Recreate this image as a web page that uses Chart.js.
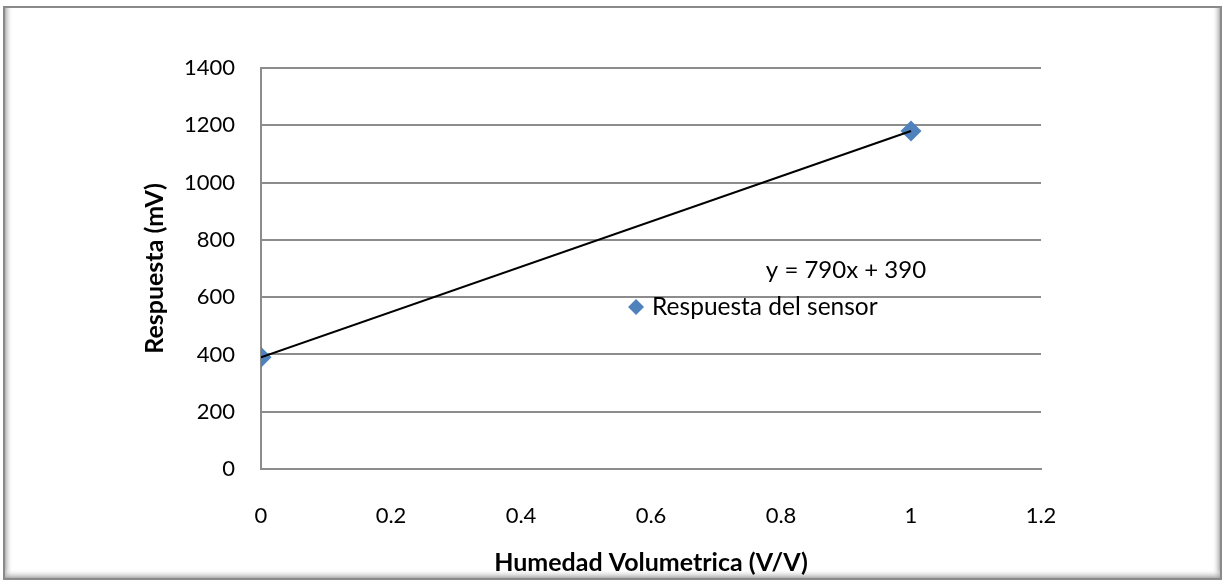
<!DOCTYPE html>
<html><head><meta charset="utf-8">
<script src="https://cdn.jsdelivr.net/npm/chart.js@4/dist/chart.umd.min.js"></script>
<style>html,body{margin:0;padding:0;background:#fff;} canvas{display:block}</style>
</head><body>
<canvas id="c" width="1225" height="583"></canvas>
<script>
const humedad = [0, 1];
const respuesta = [390, 1180];
const trendX = [0, 1];
const trendY = [390, 1180];
const xTicks = [0, 0.2, 0.4, 0.6, 0.8, 1, 1.2];
const yTicks = [0, 200, 400, 600, 800, 1000, 1200, 1400];
const seriesName = 'Respuesta del sensor';
const equationText = 'y = 790x + 390';
const xTitle = 'Humedad Volumetrica (V/V)';
const yTitle = 'Respuesta (mV)';

const FONT = 'Lato';
const BLUE = '#4F81BD';
const GRID = '#8c8c8c';

const framePlugin = {
  id: 'frame',
  beforeDraw(chart) {
    const ctx = chart.ctx;
    ctx.save();
    ctx.fillStyle = '#fff';
    ctx.fillRect(0, 0, chart.width, chart.height);
    let g = ctx.createLinearGradient(5, 0, 13, 0);
    g.addColorStop(0, '#b0b0b0'); g.addColorStop(1, 'rgba(255,255,255,0)');
    ctx.fillStyle = g; ctx.fillRect(5, 8, 8, 570);
    g = ctx.createLinearGradient(1212, 0, 1221, 0);
    g.addColorStop(0, 'rgba(255,255,255,0)'); g.addColorStop(1, '#9a9a9a');
    ctx.fillStyle = g; ctx.fillRect(1212, 8, 9, 571);
    g = ctx.createLinearGradient(0, 569, 0, 579);
    g.addColorStop(0, 'rgba(255,255,255,0)'); g.addColorStop(1, '#9a9a9a');
    ctx.fillStyle = g; ctx.fillRect(5, 569, 1216, 10);
    ctx.strokeStyle = '#8a8a8a';
    ctx.lineWidth = 2;
    ctx.strokeRect(4, 7, 1217, 572);
    ctx.restore();
  }
};

const annotPlugin = {
  id: 'annot',
  afterDraw(chart) {
    const ctx = chart.ctx;
    const xs = chart.scales.x, ys = chart.scales.y;
    ctx.save();
    ctx.font = '24px ' + FONT;
    ctx.fillStyle = '#000';
    ctx.textBaseline = 'middle';
    ctx.textAlign = 'center';
    ctx.fillText(equationText, xs.getPixelForValue(0.9), ys.getPixelForValue(695));
    const lx = xs.getPixelForValue(0.577), ly = ys.getPixelForValue(566);
    ctx.fillStyle = BLUE;
    ctx.beginPath();
    ctx.moveTo(lx - 8, ly); ctx.lineTo(lx, ly - 8); ctx.lineTo(lx + 8, ly); ctx.lineTo(lx, ly + 8);
    ctx.closePath(); ctx.fill();
    ctx.fillStyle = '#000';
    ctx.textAlign = 'left';
    ctx.font = '24.5px ' + FONT;
    ctx.fillText(seriesName, lx + 16, ly);
    ctx.restore();
  }
};

new Chart(document.getElementById('c'), {
  type: 'scatter',
  data: {
    datasets: [
      {
        label: 'Lineal',
        type: 'line',
        data: trendX.map((x, i) => ({x, y: trendY[i]})),
        borderColor: '#000',
        borderWidth: 2,
        pointRadius: 0,
        fill: false,
        order: 0
      },
      {
        label: seriesName,
        data: humedad.map((x, i) => ({x, y: respuesta[i]})),
        pointStyle: 'rectRot',
        pointRadius: 10.5,
        pointHoverRadius: 10.5,
        backgroundColor: BLUE,
        borderColor: BLUE,
        borderWidth: 0,
        order: 1
      }
    ]
  },
  options: {
    responsive: false,
    animation: false,
    devicePixelRatio: 1,
    layout: { padding: { left: 140, top: 68, right: 184, bottom: 5 } },
    plugins: { legend: { display: false }, tooltip: { enabled: false } },
    scales: {
      x: {
        type: 'linear', min: 0, max: 1.2,
        afterBuildTicks: s => { s.ticks = xTicks.map(v => ({value: v})); },
        afterFit: s => { s.height = 109; },
        grid: { display: false, drawTicks: false },
        border: { display: true, color: GRID, width: 2 },
        ticks: { padding: 34, color: '#000', font: { family: FONT, size: 22 }, callback: v => String(+v.toFixed(1)), maxRotation: 0 },
        title: { display: true, text: xTitle, color: '#000', font: { family: FONT, size: 25, weight: 'bold' }, padding: 0 }
      },
      y: {
        type: 'linear', min: 0, max: 1400,
        afterBuildTicks: s => { s.ticks = yTicks.map(v => ({value: v})); },
        afterFit: s => { s.width = 121; },
        grid: { display: true, drawTicks: false, color: GRID, lineWidth: 2 },
        border: { display: true, color: GRID, width: 2 },
        ticks: { padding: 26, color: '#000', font: { family: FONT, size: 22 }, callback: v => String(v) },
        title: { display: true, text: yTitle, color: '#000', font: { family: FONT, size: 25, weight: 'bold' }, padding: 0 }
      }
    }
  },
  plugins: [framePlugin, annotPlugin]
});
</script>
</body></html>
